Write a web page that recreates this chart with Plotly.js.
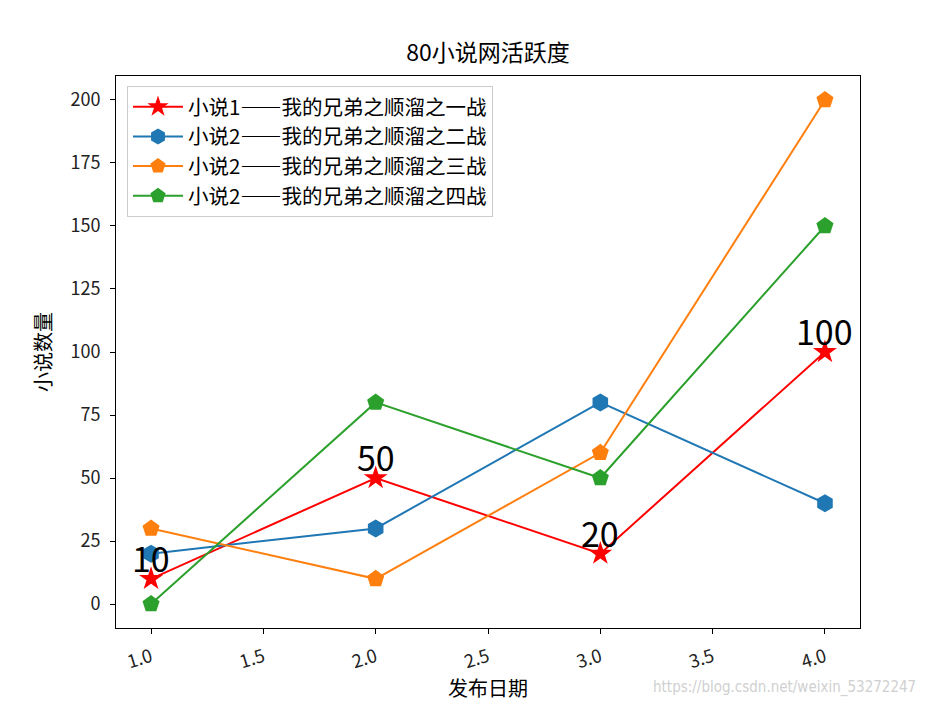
<!DOCTYPE html>
<html lang="zh-CN">
<head>
<meta charset="utf-8">
<script src="https://cdn.plot.ly/plotly-3.0.1.min.js"></script>
<style>html,body{margin:0;padding:0;background:#fff;}#chart{width:930px;height:705px;}</style>
</head>
<body>
<div id="chart"></div>
<script>
const dates = [1, 2, 3, 4];
const names = [
  "小说1——我的兄弟之顺溜之一战",
  "小说2——我的兄弟之顺溜之二战",
  "小说2——我的兄弟之顺溜之三战",
  "小说2——我的兄弟之顺溜之四战"
];
const novel1 = [10, 50, 20, 100];
const novel2 = [20, 30, 80, 40];
const novel3 = [30, 10, 60, 200];
const novel4 = [0, 80, 50, 150];
const labelValues = novel1;
const xTickVals = [1, 1.5, 2, 2.5, 3, 3.5, 4];
const xTickText = ["1.0", "1.5", "2.0", "2.5", "3.0", "3.5", "4.0"];
const yTickVals = [0, 25, 50, 75, 100, 125, 150, 175, 200];
const colors = ["#ff0000", "#1f77b4", "#ff7f0e", "#2ca02c"];
const symbols = ["star", "hexagon", "pentagon", "pentagon"];
const series = [novel1, novel2, novel3, novel4];

const FONT = "'Noto Sans CJK SC', 'DejaVu Sans', sans-serif";

const traces = series.map((s, i) => ({
  x: dates, y: s, name: names[i], type: "scatter", mode: "lines+markers",
  line: {color: colors[i], width: 2},
  marker: {color: colors[i], symbol: symbols[i], size: 18, line: {width: 0}}
}));

const annotations = dates.map((d, i) => ({
  x: d, y: labelValues[i], xref: "x", yref: "y", text: String(labelValues[i]),
  showarrow: false, xanchor: "center", yanchor: "bottom", yshift: -5,
  font: {family: FONT, size: 34, color: "#000"}
}));
annotations.push({
  xref: "paper", yref: "paper", x: 1.078, y: -0.108, xanchor: "right", yanchor: "middle",
  text: "https://blog.csdn.net/weixin_53272247", showarrow: false,
  font: {family: "'Liberation Sans Narrow', 'DejaVu Sans Condensed', sans-serif", size: 15, color: "#d0d0d0"}
});

const layout = {
  width: 930, height: 705,
  margin: {l: 116, r: 70, t: 76, b: 77},
  paper_bgcolor: "#fff", plot_bgcolor: "#fff",
  font: {family: FONT, color: "#000", size: 18},
  title: {text: "80小说网活跃度", x: 0.5, xref: "paper", xanchor: "center", y: 1 - 53/705, yanchor: "middle", font: {size: 23, family: FONT, color: "#000"}},
  xaxis: {
    range: [0.844, 4.156], tickvals: xTickVals, ticktext: xTickText,
    tickangle: -17, ticks: "outside", ticklen: 5, tickcolor: "#000", ticklabelstandoff: 6,
    showline: true, linecolor: "#000", linewidth: 1, mirror: true, showgrid: false, zeroline: false,
    tickfont: {family: FONT, size: 18, color: "#222"},
    title: {text: "发布日期", font: {size: 20, family: FONT}, standoff: 8}
  },
  yaxis: {
    range: [-9.5, 209.5], tickvals: yTickVals,
    ticks: "outside", ticklen: 5, tickcolor: "#000", ticklabelstandoff: 6,
    showline: true, linecolor: "#000", linewidth: 1, mirror: true, showgrid: false, zeroline: false,
    tickfont: {family: FONT, size: 18, color: "#222"},
    title: {text: "小说数量", font: {size: 20, family: FONT}, standoff: 13}
  },
  legend: {
    x: 0.0148, y: 0.982, xanchor: "left", yanchor: "top",
    bgcolor: "rgba(255,255,255,0.8)", bordercolor: "#cccccc", borderwidth: 1,
    itemwidth: 50,
    font: {size: 20.5, family: FONT, color: "#000"}, tracegroupgap: 0
  },
  annotations: annotations,
  showlegend: true
};

Plotly.newPlot("chart", traces, layout, {displayModeBar: false, staticPlot: true});
</script>
</body>
</html>
